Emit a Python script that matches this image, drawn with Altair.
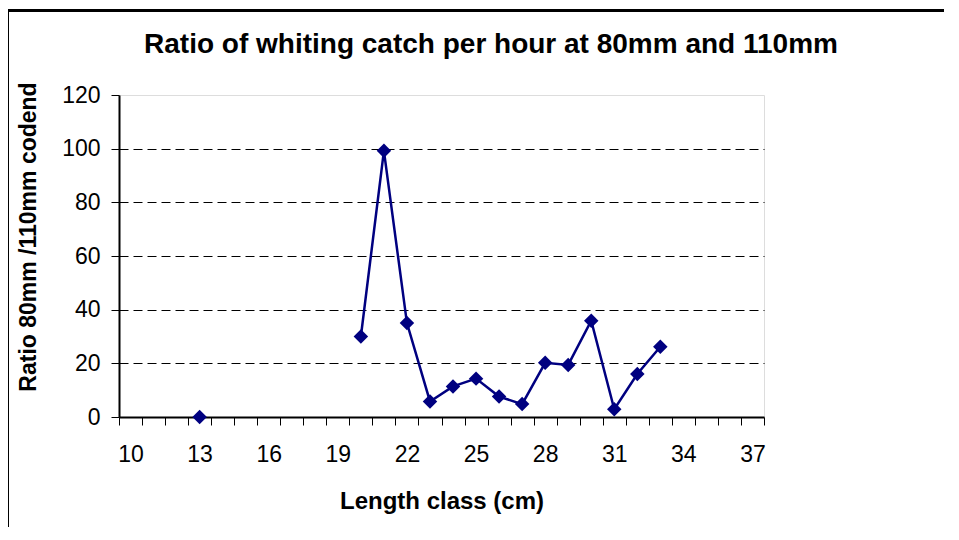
import altair as alt
import pandas as pd

# Data
length_class = [13, 20, 21, 22, 23, 24, 25, 26, 27, 28, 29, 30, 31, 32, 33]
ratio = [0.0, 30.0, 99.2, 35.0, 5.8, 11.4, 14.3, 7.6, 4.8, 20.2, 19.4, 35.9, 2.9, 16.0, 26.2]

x_categories = list(range(10, 38))          # category axis 10..37
x_tick_labels = [10, 13, 16, 19, 22, 25, 28, 31, 34, 37]
y_ticks = [0, 20, 40, 60, 80, 100, 120]

title_text = "Ratio of whiting catch per hour at 80mm and 110mm"
x_title = "Length class (cm)"
y_title = "Ratio 80mm /110mm codend"

# consecutive runs form line segments (gaps break the line)
seg = []
s = 0
for i, v in enumerate(length_class):
    if i > 0 and v != length_class[i - 1] + 1:
        s += 1
    seg.append(s)
df = pd.DataFrame({"length": length_class, "ratio": ratio, "seg": seg})

W, H = 645, 322
PAD = {"left": 111, "top": 87, "right": 180, "bottom": 110}
FONT = "Liberation Sans"
NAVY = "#000080"

band_edges = [c - 0.5 for c in x_categories] + [x_categories[-1] + 0.5]
label_list = ",".join(str(v) for v in x_tick_labels)

x_scale = alt.Scale(domain=[x_categories[0] - 0.5, x_categories[-1] + 0.5], nice=False, zero=False)
y_scale = alt.Scale(domain=[y_ticks[0], y_ticks[-1]], nice=False)

x_axis = alt.Axis(
    values=band_edges,
    tickCount=len(band_edges),
    labelExpr=f"indexof([{label_list}], datum.value + 0.5) >= 0 ? format(datum.value + 0.5, 'd') : ''",
    labelOffset=W / len(x_categories) / 2,
    labelFlush=False,
    labelOverlap=False,
    labelBound=False,
    labelFont=FONT, labelFontSize=23, labelColor="black",
    labelPadding=18,
    tickSize=8, tickColor="black", tickWidth=1,
    domainColor="black", domainWidth=2,
    grid=False,
    title=x_title, titleFont=FONT, titleFontSize=24, titleFontWeight="bold",
    titleColor="black", titleBaseline="alphabetic", titleY=91, titleX=W / 2,
    titleAlign="center",
)

y_axis = alt.Axis(
    values=y_ticks,
    tickCount=len(y_ticks),
    labelFont=FONT, labelFontSize=23, labelColor="black", labelPadding=11,
    labelFlush=False, labelOverlap=False,
    tickSize=8, tickColor="black", tickWidth=1,
    domainColor="black", domainWidth=2,
    grid=True, gridColor="black", gridWidth=1, gridDash=[9, 5],
    gridOpacity={"condition": {"test": f"datum.value == {y_ticks[0]} || datum.value == {y_ticks[-1]}", "value": 0}, "value": 1},
    title=y_title, titleFont=FONT, titleFontSize=23, titleFontWeight="bold",
    titleColor="black", titleBaseline="alphabetic", titleX=-84, titleY=141.5,
    titleAlign="center", titleAngle=270,
)

base = alt.Chart(df)

line = base.mark_line(color=NAVY, strokeWidth=2.5).encode(
    x=alt.X("length:Q", scale=x_scale, axis=x_axis),
    y=alt.Y("ratio:Q", scale=y_scale, axis=y_axis),
    detail="seg:N",
)

points = base.mark_point(shape="diamond", filled=True, size=210, color=NAVY, opacity=1).encode(
    x=alt.X("length:Q", scale=x_scale),
    y=alt.Y("ratio:Q", scale=y_scale),
)

one = pd.DataFrame({"f": [0]})
frame_top = alt.Chart(one).mark_rule(color="black", strokeWidth=3, clip=False).encode(
    x=alt.value(-PAD["left"] - 1), x2=alt.value(W + PAD["right"] + 5), y=alt.value(-84.5)
)
frame_left = alt.Chart(one).mark_rule(color="black", strokeWidth=3, clip=False).encode(
    x=alt.value(-111.5), y=alt.value(-86), y2=alt.value(H + PAD["bottom"] + 5)
)

title = alt.Chart(one).mark_text(
    text=title_text, font=FONT, fontSize=28, fontWeight="bold", color="black",
    align="center", baseline="alphabetic",
).encode(x=alt.value(372), y=alt.value(-42))

chart = alt.layer(frame_top, frame_left, line, points, title).properties(
    width=W, height=H,
    autosize="none",
    padding=PAD,
).configure_view(
    stroke="#808080", strokeWidth=2
).configure(background="white")

chart.save("out.html", embed_options={"renderer": "svg", "actions": False})
